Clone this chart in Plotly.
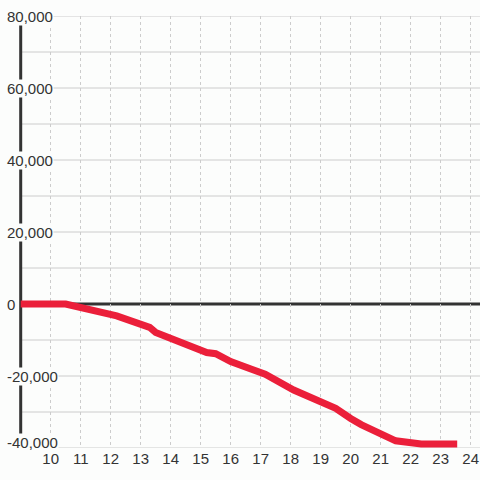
import plotly.graph_objects as go

# hour of day vs running total
hours = [9, 10.5, 12.2, 13.3, 13.5, 14.3, 15.2, 15.5, 16.0, 16.65, 17.15,
         18.1, 18.9, 19.5, 20.0, 20.35, 21.5, 22.35, 23.55]
totals = [0, 0, -3300, -6500, -7900, -10300, -13500, -13800, -16000, -18000,
          -19500, -23900, -26700, -29000, -31800, -33500, -38000, -38900, -38900]

x_ticks = list(range(10, 25))
y_grid = list(range(-40000, 80001, 10000))
y_labels = [-40000, -20000, 0, 20000, 40000, 60000, 80000]

bg = '#fcfdfc'
ink = '#333333'

fig = go.Figure()

fig.add_trace(go.Scatter(
    x=hours,
    y=totals,
    mode='lines',
    line=dict(color='#eb1f3a', width=7),
    hoverinfo='skip',
    showlegend=False
))

# horizontal grid, starting at the axis line
for v in y_grid:
    fig.add_shape(type='line', xref='x', yref='y', x0=hours[0], x1=24.31,
                  y0=v, y1=v, line=dict(color='#cccccc', width=1), layer='below')

# zero line and vertical axis
fig.add_shape(type='line', xref='x', yref='y', x0=hours[0], x1=24.31, y0=0, y1=0,
              line=dict(color=ink, width=3), layer='below')
fig.add_shape(type='line', xref='x', yref='y', x0=hours[0], x1=hours[0],
              y0=y_grid[0], y1=y_grid[-1], line=dict(color=ink, width=3), layer='below')

# y labels sit on top of the axis line
for v in y_labels:
    fig.add_annotation(
        x=0.012, xref='paper', xanchor='left',
        y=v, yref='y', yanchor='middle',
        yshift=6 if v == y_labels[0] else 0,
        text=f'{v:,}', showarrow=False,
        font=dict(family='Liberation Sans, Arial', size=15, color=ink),
        bgcolor=bg, borderpad=0
    )

fig.update_layout(
    width=480, height=480,
    margin=dict(l=0, r=0, t=16, b=32),
    paper_bgcolor=bg,
    plot_bgcolor=bg,
    xaxis=dict(
        range=[8.31, 24.31],
        tickvals=x_ticks,
        showgrid=True,
        gridcolor='#cccccc',
        griddash='3px,3px',
        gridwidth=1,
        zeroline=False,
        showline=False,
        ticks='',
        tickfont=dict(family='Liberation Sans, Arial', size=15, color=ink),
    ),
    yaxis=dict(
        range=[-40000, 80000],
        showgrid=False,
        zeroline=False,
        showline=False,
        showticklabels=False,
        ticks='',
    ),
)

fig.write_html('out.html', config={'displayModeBar': False},
               post_script="document.body.style.margin='0';document.body.style.overflow='hidden';")
